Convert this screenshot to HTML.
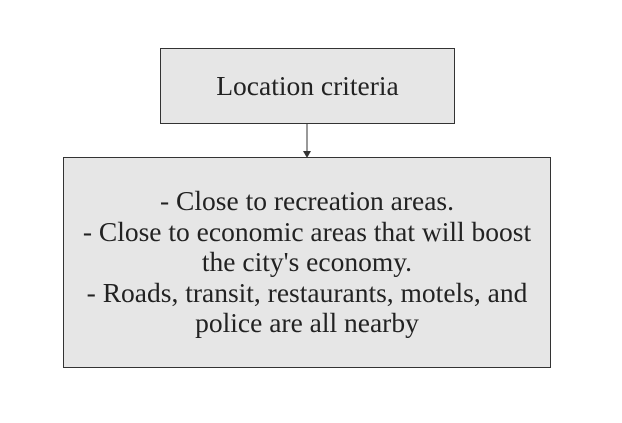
<!DOCTYPE html>
<html><head><style>
body{margin:0;width:622px;height:423px;background:#fff;position:relative;font-family:"Liberation Serif",serif;color:#222}
.b{position:absolute;background:#e6e6e6;border:1px solid #333;box-sizing:border-box;display:flex;align-items:center;justify-content:center;text-align:center}
</style></head><body>
<div class="b" style="left:160px;top:48px;width:295px;height:76px;font-size:27.5px;">Location criteria</div>
<svg style="position:absolute;left:0;top:0" width="622" height="423">
<line x1="307" y1="124" x2="307" y2="152" stroke="#333" stroke-width="1"/>
<polygon points="303,151 311,151 307,158" fill="#333"/>
</svg>
<div class="b" style="left:63px;top:157px;width:488px;height:211px;font-size:27.5px;line-height:30.5px;">- Close to recreation areas.<br>- Close to economic areas that will boost<br>the city's economy.<br>- Roads, transit, restaurants, motels, and<br>police are all nearby</div>
</body></html>
